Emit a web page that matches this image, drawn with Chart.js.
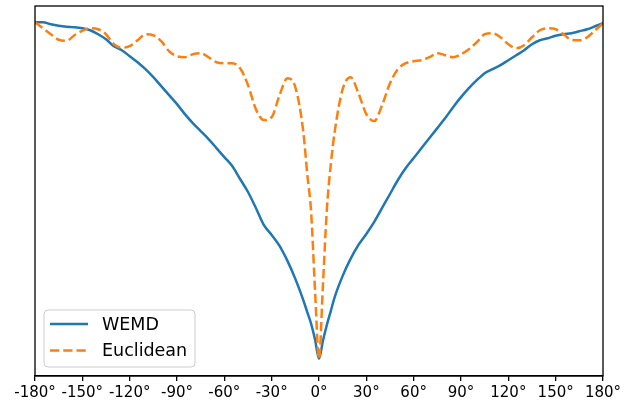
<!DOCTYPE html>
<html>
<head>
<meta charset="utf-8">
<script src="https://cdn.jsdelivr.net/npm/chart.js@4/dist/chart.umd.min.js"></script>
<style>
  html, body { margin: 0; padding: 0; background: #fff; }
  canvas { display: block; }
</style>
</head>
<body>
<canvas id="c" width="631" height="402"></canvas>
<script>
// Rotation angle (degrees)
const angles = [-180,-175,-170,-165,-160,-155,-150,-145,-140,-135,-130,-125,-120,-115,-110,-105,-100,-95,-90,-85,-80,-75,-70,-65,-60,-55,-50,-45,-40,-35,-30,-25,-20,-15,-10,-7.5,-5,-2.5,0,2.5,5,7.5,10,15,20,25,30,35,40,45,50,55,60,65,70,75,80,85,90,95,100,105,110,115,120,125,130,135,140,145,150,155,160,165,170,175,180];
// Distance (arbitrary units, no y labels in the original)
const wemd = [337,337,335,333.5,332.5,332,331,329,325,320,313,309,303,297,290,282,273,264,255,245,236,228,220,211,202,193,180,167,151,134,124,113,98,80,59,47,35,19,0,18,34,48,62,83,100,114,125,137,151,165,179,191,201,211,221,231,241,252,262,271,279,286,290,294,299,304,309,315,319,321,323.5,325,326,328,330,333,336];
const euclidean = [337,331,325,319.5,318.5,324,328.5,331,330,325,315,311.5,313,319,325,324,318,308,303,302,305,306,302,297,296,296,291,274,250,239,242,264,281,272,228,186,147,68,0,74,150,195,228,270,282,266,245,238,254,276,290,296,298,299,302,306,304,302,305,310,317,325,326,322,315,311,314,322,329,331,330,325,319.5,319,322,329,336];
const seriesNames = ['WEMD', 'Euclidean'];
const tickLabelStep = 30;

const FONT = '"DejaVu Sans", sans-serif';

const framePlugin = {
  id: 'frameAndLegend',
  afterDatasetsDraw(chart) {
    const ctx = chart.ctx;
    const a = chart.chartArea;
    ctx.save();
    // spines
    ctx.strokeStyle = '#000';
    ctx.lineWidth = 1.3;
    ctx.strokeRect(a.left, a.top, a.right - a.left, a.bottom - a.top);
    // legend
    const bx = 44, by = 310, bw = 151, bh = 57, r = 4;
    ctx.beginPath();
    ctx.moveTo(bx + r, by);
    ctx.lineTo(bx + bw - r, by);
    ctx.quadraticCurveTo(bx + bw, by, bx + bw, by + r);
    ctx.lineTo(bx + bw, by + bh - r);
    ctx.quadraticCurveTo(bx + bw, by + bh, bx + bw - r, by + bh);
    ctx.lineTo(bx + r, by + bh);
    ctx.quadraticCurveTo(bx, by + bh, bx, by + bh - r);
    ctx.lineTo(bx, by + r);
    ctx.quadraticCurveTo(bx, by, bx + r, by);
    ctx.closePath();
    ctx.fillStyle = 'rgba(255,255,255,0.8)';
    ctx.fill();
    ctx.strokeStyle = '#cccccc';
    ctx.lineWidth = 1;
    ctx.stroke();
    const rows = [324, 350.5];
    chart.data.datasets.forEach((ds, i) => {
      const y = rows[i];
      ctx.beginPath();
      ctx.strokeStyle = ds.borderColor;
      ctx.lineWidth = ds.borderWidth;
      ctx.setLineDash(ds.borderDash || []);
      ctx.moveTo(50, y);
      ctx.lineTo(88, y);
      ctx.stroke();
      ctx.setLineDash([]);
      ctx.fillStyle = '#000';
      ctx.font = '17.5px ' + FONT;
      ctx.textBaseline = 'middle';
      ctx.textAlign = 'left';
      ctx.fillText(ds.label, 102, y + 1);
    });
    ctx.restore();
  }
};

new Chart(document.getElementById('c'), {
  type: 'line',
  data: {
    datasets: [
      {
        label: seriesNames[0],
        data: angles.map((x, i) => ({ x, y: wemd[i] })),
        borderColor: '#1f77b4',
        borderWidth: 2.5,
        pointRadius: 0,
        fill: false,
        cubicInterpolationMode: 'monotone',
        order: 2
      },
      {
        label: seriesNames[1],
        data: angles.map((x, i) => ({ x, y: euclidean[i] })),
        borderColor: '#ff7f0e',
        borderWidth: 2.5,
        borderDash: [9.25, 4],
        pointRadius: 0,
        fill: false,
        cubicInterpolationMode: 'monotone',
        order: 1
      }
    ]
  },
  options: {
    responsive: false,
    animation: false,
    layout: { padding: { left: 35, right: 28, top: 6, bottom: 0 } },
    plugins: { legend: { display: false }, tooltip: { enabled: false } },
    scales: {
      x: {
        type: 'linear',
        min: -180,
        max: 180,
        afterFit: s => { s.height = 26; },
        border: { display: true, color: '#000', width: 1.3 },
        grid: { display: true, drawOnChartArea: false, drawTicks: true, tickLength: 5, color: '#000', lineWidth: 1.3 },
        ticks: {
          stepSize: tickLabelStep,
          autoSkip: false,
          maxRotation: 0,
          padding: 3,
          color: '#000',
          font: { family: FONT, size: 15 },
          callback: v => v + '°'
        }
      },
      y: {
        display: false,
        min: -17.3,
        max: 353.3
      }
    }
  },
  plugins: [framePlugin]
});
</script>
</body>
</html>
